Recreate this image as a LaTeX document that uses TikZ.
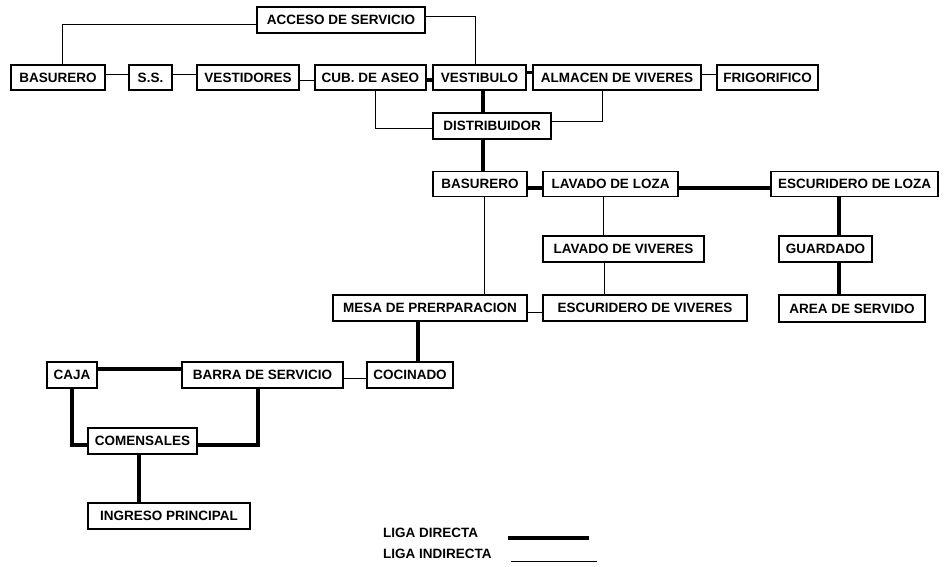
\documentclass[tikz,border=0pt]{standalone}
\usepackage{fontspec}
\setmainfont{Liberation Sans}
\usetikzlibrary{positioning}

\tikzset{
  espacio/.style={draw, line width=1.2pt, inner xsep=2pt, inner ysep=0pt,
    minimum height=25, font=\bfseries\fontsize{13.5}{14}\selectfont},
  directa/.style={line width=3.4pt},
  indirecta/.style={line width=1pt},
  leyenda/.style={anchor=west, inner sep=0pt, font=\bfseries\fontsize{13.5}{14}\selectfont}
}

\begin{document}
\begin{tikzpicture}[x=1pt, y=-1pt]
  \useasboundingbox (0,0) rectangle (947,567);

  \node[espacio, minimum width=168, minimum height=26] (acceso) at (341,20) {ACCESO DE SERVICIO};

  \node[espacio, minimum width=94] (basA) at (58,77.5) {BASURERO};
  \node[espacio, minimum width=43] (ss) at (150.5,77.5) {S.S.};
  \node[espacio, minimum width=102] (vest) at (248,77.5) {VESTIDORES};
  \node[espacio, minimum width=111] (cub) at (370.5,77.5) {CUB. DE ASEO};
  \node[espacio, minimum width=93] (vestib) at (479.5,77.5) {VESTIBULO};
  \node[espacio, minimum width=168] (almacen) at (617,77.5) {ALMACEN DE VIVERES};
  \node[espacio, minimum width=101] (frigo) at (767.5,77.5) {FRIGORIFICO};

  \node[espacio, minimum width=118, minimum height=26] (distrib) at (492,126) {DISTRIBUIDOR};

  \node[espacio, minimum width=94] (basB) at (480,184) {BASURERO};
  \node[espacio, minimum width=135] (lavloza) at (610.5,184) {LAVADO DE LOZA};
  \node[espacio, minimum width=167] (escloza) at (854.5,184) {ESCURIDERO DE LOZA};

  \node[espacio, minimum width=161, minimum height=26] (lavviv) at (623.5,249) {LAVADO DE VIVERES};
  \node[espacio, minimum width=93, minimum height=26] (guardado) at (825.5,249) {GUARDADO};

  \node[espacio, minimum width=194, minimum height=26] (mesa) at (430,308) {MESA DE PRERPARACION};
  \node[espacio, minimum width=204, minimum height=26] (escviv) at (645,308) {ESCURIDERO DE VIVERES};
  \node[espacio, minimum width=146, minimum height=27] (area) at (852,308.5) {AREA DE SERVIDO};

  \node[espacio, minimum width=50, minimum height=26] (caja) at (72,375) {CAJA};
  \node[espacio, minimum width=161, minimum height=26] (barra) at (262.5,375) {BARRA DE SERVICIO};
  \node[espacio, minimum width=86, minimum height=26] (cocinado) at (410,375) {COCINADO};

  \node[espacio, minimum width=109, minimum height=26] (comens) at (142.5,441) {COMENSALES};
  \node[espacio, minimum width=162, minimum height=26] (ingreso) at (169,516) {INGRESO PRINCIPAL};

  % ligas de la zona de servicio
  \draw[indirecta] ([yshift=-5pt]acceso.west) -| ([xshift=4pt]basA.north);
  \draw[indirecta] ([yshift=3pt]acceso.east) -| ([xshift=-4pt]vestib.north);
  \draw[indirecta] ([yshift=3pt]basA.east) -- ([yshift=3pt]ss.west);
  \draw[indirecta] ([yshift=3pt]ss.east) -- ([yshift=3pt]vest.west);
  \draw[indirecta] ([yshift=-3.5pt]vest.east) -- ([yshift=-3.5pt]cub.west);
  \draw[directa] ([yshift=-2.5pt]cub.east) -- ([yshift=-2.5pt]vestib.west);
  \draw[directa] ([yshift=5pt]vestib.east) -- ([yshift=5pt]almacen.west);
  \draw[indirecta] ([yshift=3pt]almacen.east) -- ([yshift=3pt]frigo.west);
  \draw[indirecta] ([xshift=4.5pt]cub.south) |- ([yshift=-3pt]distrib.west);
  \draw[directa] ([xshift=3.5pt]vestib.south) -- ([xshift=3.5pt]vestib.south |- distrib.north);
  \draw[indirecta] ([xshift=-15pt]almacen.south) |- ([yshift=4pt]distrib.east);
  \draw[directa] ([xshift=-9pt]distrib.south) -- ([xshift=-9pt]distrib.south |- basB.north);

  % cocina
  \draw[directa] ([yshift=-4pt]basB.east) -- ([yshift=-4pt]lavloza.west);
  \draw[directa] ([yshift=-4pt]lavloza.east) -- ([yshift=-4pt]escloza.west);
  \draw[indirecta] ([xshift=4pt]basB.south) -- ([xshift=4pt]basB.south |- mesa.north);
  \draw[indirecta] ([xshift=-7.5pt]lavloza.south) -- ([xshift=-7.5pt]lavloza.south |- lavviv.north);
  \draw[indirecta] ([xshift=-19.5pt]lavviv.south) -- ([xshift=-19.5pt]lavviv.south |- escviv.north);
  \draw[directa] ([xshift=-15.5pt]escloza.south) -- ([xshift=-15.5pt]escloza.south |- guardado.north);
  \draw[directa] ([xshift=13.5pt]guardado.south) -- ([xshift=13.5pt]guardado.south |- area.north);
  \draw[indirecta] ([yshift=-4pt]mesa.east) -- ([yshift=-4pt]escviv.west);
  \draw[directa] ([xshift=-12pt]mesa.south) -- ([xshift=-12pt]mesa.south |- cocinado.north);

  % comedor
  \draw[directa] ([yshift=6pt]caja.east) -- ([yshift=6pt]caja.east -| barra.west);
  \draw[indirecta] ([yshift=-3pt]barra.east) -- ([yshift=-3pt]barra.east -| cocinado.west);
  \draw[directa] (caja.south) |- ([yshift=-4pt]comens.west);
  \draw[directa] ([xshift=-4.5pt]barra.south) |- ([yshift=-4pt]comens.east);
  \draw[directa] ([xshift=-3.5pt]comens.south) -- ([xshift=-3.5pt]comens.south |- ingreso.north);

  % leyenda
  \node[leyenda] (ldir) at (383,533) {LIGA DIRECTA};
  \node[leyenda] (lind) at (383,554) {LIGA INDIRECTA};
  \coordinate (d1) at (508,538);
  \coordinate (d2) at (589,538);
  \coordinate (i1) at (511,561);
  \coordinate (i2) at (597,561);
  \draw[directa] (d1) -- (d2);
  \draw[indirecta] (i1) -- (i2);
\end{tikzpicture}
\end{document}
